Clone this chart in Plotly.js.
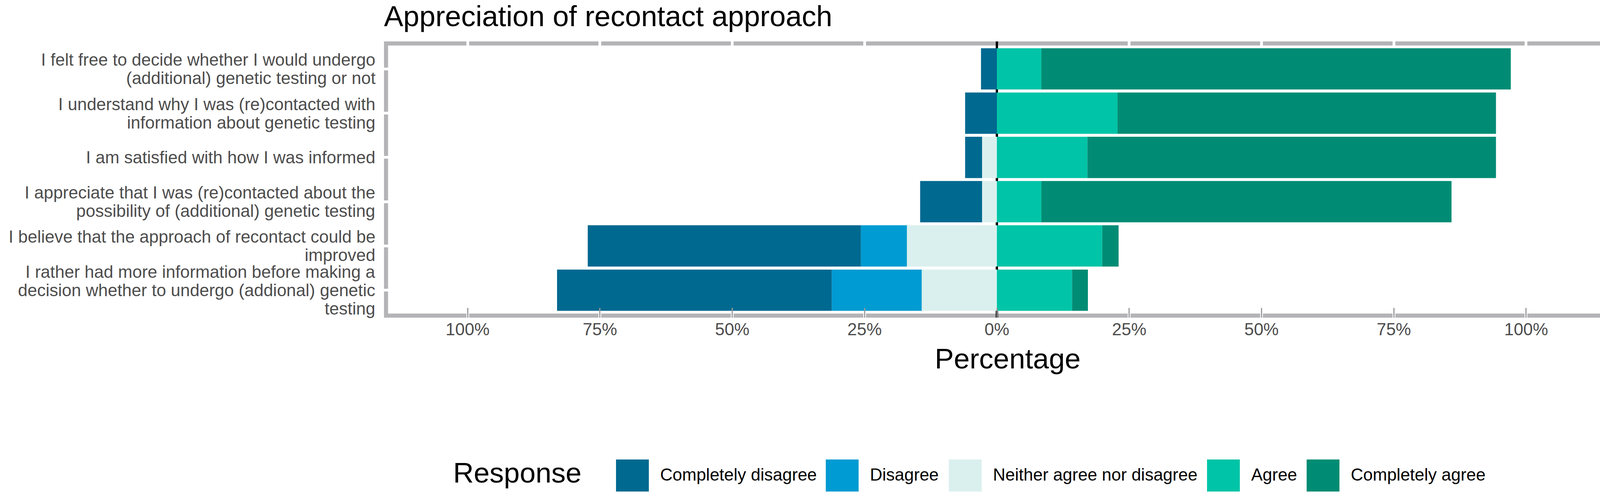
<!DOCTYPE html>
<html>
<head>
<meta charset="utf-8">
<script src="https://cdn.plot.ly/plotly-3.0.1.min.js"></script>
<style>html,body{margin:0;padding:0;background:#fff;}#chart{width:4142px;height:1272px;}</style>
</head>
<body>
<div id="chart"></div>
<script>
// ---------------- data ----------------
const categories = [
  "I felt free to decide whether I would undergo<br>(additional) genetic testing or not",
  "I understand why I was (re)contacted with<br>information about genetic testing",
  "I am satisfied with how I was informed",
  "I appreciate that I was (re)contacted about the<br>possibility of (additional) genetic testing",
  "I believe that the approach of recontact could be<br>improved",
  "I rather had more information before making a<br>decision whether to undergo (addional) genetic<br>testing"
];
const responses = ["Completely disagree", "Disagree", "Neither agree nor disagree", "Agree", "Completely agree"];
const completelyDisagree = [3.0, 6.0, 3.2, 11.7, 51.6, 51.9];
const disagree           = [0.0, 0.0, 0.0, 0.0, 8.7, 17.0];
const neither            = [0.0, 0.0, 2.8, 2.8, 17.0, 14.2];
const agree              = [8.4, 22.8, 17.1, 8.4, 19.9, 14.2];
const completelyAgree    = [88.7, 71.5, 77.2, 77.5, 3.1, 3.0];
const tickValues = [-100, -75, -50, -25, 0, 25, 50, 75, 100];
const tickLabels = ["100%", "75%", "50%", "25%", "0%", "25%", "50%", "75%", "100%"];

// ---------------- styles ----------------
const colors = {
  "Completely disagree": "#006990",
  "Disagree": "#009bd2",
  "Neither agree nor disagree": "#daf0ee",
  "Agree": "#00c4a7",
  "Completely agree": "#008c74"
};
const FONT = "Liberation Sans, Arial, Helvetica, sans-serif";
const W = 4142, Hh = 1272;
const L = 983, R = 4121, T = 106, B = 813;
const PW = R - L, PH = B - T;
const px2x = p => (p - L) / PW;
const px2y = p => (B - p) / PH;
const borderColor = "#b4b3b6";
const bw = 10.5;

function barTrace(name, vals, sign) {
  return {
    type: "bar", orientation: "h", name: name,
    y: categories, x: vals.map(v => sign * v),
    marker: {color: colors[name], line: {width: 0}},
    showlegend: false, hoverinfo: "name+x"
  };
}
// negative side stacks outward from zero in trace order
const traces = [
  barTrace("Neither agree nor disagree", neither, -1),
  barTrace("Disagree", disagree, -1),
  barTrace("Completely disagree", completelyDisagree, -1),
  barTrace("Agree", agree, 1),
  barTrace("Completely agree", completelyAgree, 1)
];

const shapes = [];
const annotations = [];
// thick grey panel border (below white grid lines)
[[0, 0, bw / PW, 1], [1 - bw / PW, 0, 1, 1], [0, 0, 1, bw / PH], [0, 1 - bw / PH, 1, 1]].forEach(b => {
  shapes.push({type: "rect", xref: "paper", yref: "paper", x0: b[0], y0: b[1], x1: b[2], y1: b[3],
    fillcolor: borderColor, line: {width: 0}, layer: "below"});
});

// y labels, each line placed separately for ggplot-like line spacing
const lineGap = 47;
categories.forEach(cat => {
  const lines = cat.split("<br>");
  const n = lines.length;
  lines.forEach((ln, i) => {
    annotations.push({
      xref: "paper", yref: "y", x: px2x(962.5), y: cat, xanchor: "right", yanchor: "middle",
      yshift: ((n - 1) / 2 - i) * lineGap, text: ln, showarrow: false,
      font: {family: FONT, size: 44, color: "#4d4d4d"}
    });
  });
});

// x axis title
annotations.push({xref: "paper", yref: "paper", x: px2x(2579), y: px2y(917), xanchor: "center", yanchor: "middle",
  text: "Percentage", showarrow: false, font: {family: FONT, size: 73, color: "#000"}});

// custom legend
annotations.push({xref: "paper", yref: "paper", x: px2x(1158), y: px2y(1209), xanchor: "left", yanchor: "middle",
  text: "Response", showarrow: false, font: {family: FONT, size: 73, color: "#000"}});
const keyX = [1577, 2114, 2429, 3090, 3345];
const keyW = 84, keyTop = 1176, keyBot = 1258;
responses.forEach((r, i) => {
  shapes.push({type: "rect", xref: "paper", yref: "paper",
    x0: px2x(keyX[i]), x1: px2x(keyX[i] + keyW), y0: px2y(keyBot), y1: px2y(keyTop),
    fillcolor: colors[r], line: {width: 0}, layer: "above"});
  annotations.push({xref: "paper", yref: "paper", x: px2x(keyX[i] + keyW + 27), y: px2y(1214),
    xanchor: "left", yanchor: "middle", text: r, showarrow: false,
    font: {family: FONT, size: 44, color: "#000"}});
});

const layout = {
  width: W, height: Hh,
  margin: {l: L, r: W - R, t: T, b: Hh - B, pad: 0},
  paper_bgcolor: "#fff", plot_bgcolor: "#fff",
  barmode: "relative", bargap: 0.067,
  showlegend: false,
  font: {family: FONT},
  title: {text: "Appreciation of recontact approach", xref: "paper", x: 0, xanchor: "left",
    yref: "container", y: 1 - 41 / Hh, yanchor: "middle",
    font: {family: FONT, size: 74, color: "#000"}},
  xaxis: {
    range: [-115.8, 115.8], tickmode: "array", tickvals: tickValues, ticktext: tickLabels,
    showgrid: true, gridcolor: "#ffffff", gridwidth: 7,
    zeroline: true, zerolinecolor: "#000000", zerolinewidth: 6,
    ticks: "inside", ticklen: 25, tickwidth: 3, tickcolor: "#9a9a9a",
    showline: false, automargin: false,
    tickfont: {family: FONT, size: 44, color: "#4d4d4d"}
  },
  yaxis: {
    type: "category", categoryorder: "array", categoryarray: categories,
    range: [5.62, -0.62], showticklabels: false, ticks: "",
    showgrid: true, gridcolor: "#ffffff", gridwidth: 7,
    zeroline: false, showline: false, automargin: false
  },
  shapes: shapes, annotations: annotations
};

Plotly.newPlot("chart", traces, layout, {displayModeBar: false});
</script>
</body>
</html>
